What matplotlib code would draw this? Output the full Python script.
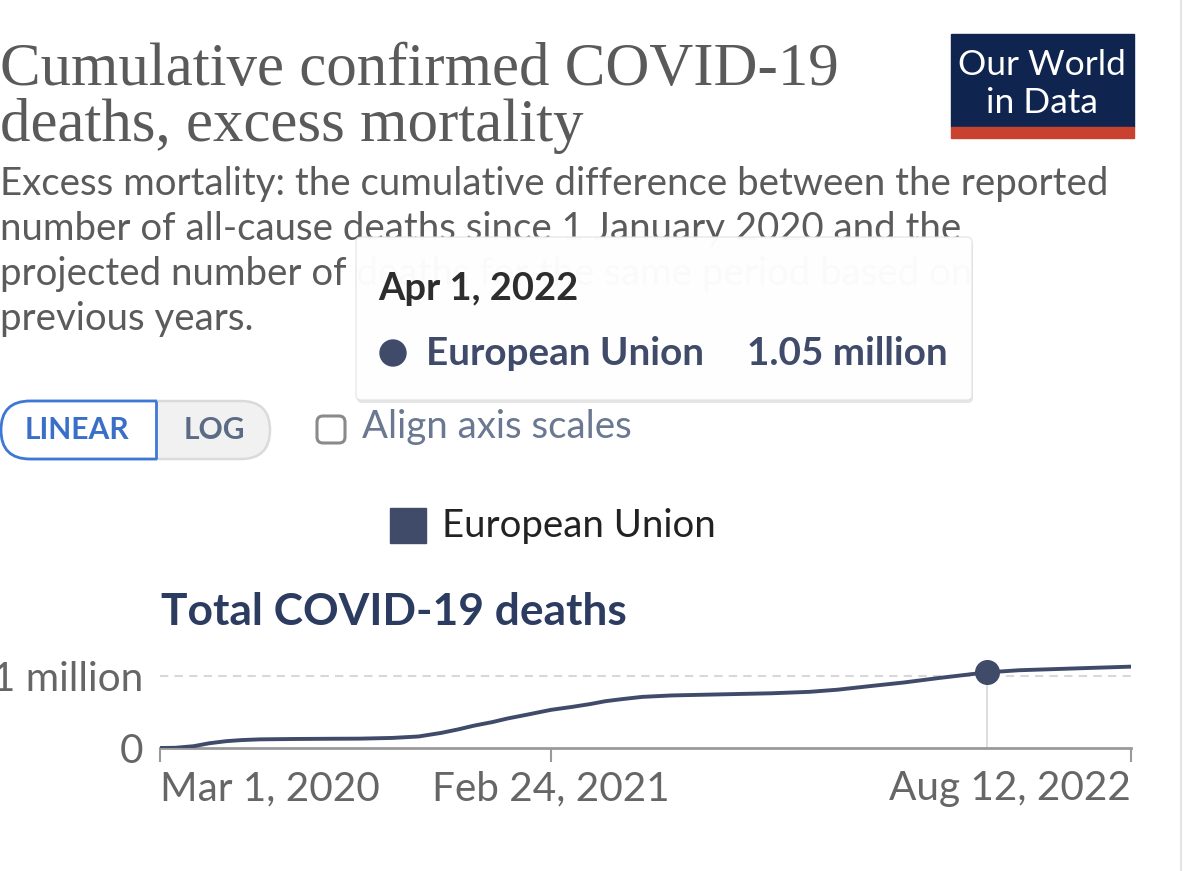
import matplotlib
matplotlib.use("Agg")
import matplotlib.pyplot as plt
import pandas as pd
from matplotlib.patches import FancyBboxPatch, Rectangle, Circle

# ---------------- data ----------------
dates = ["2020-03-01", "2020-03-15", "2020-04-01", "2020-04-15", "2020-05-01",
         "2020-05-15", "2020-06-01", "2020-07-01", "2020-08-01", "2020-09-01",
         "2020-10-01", "2020-10-25", "2020-11-15", "2020-12-01", "2020-12-15",
         "2021-01-01", "2021-01-15", "2021-02-01", "2021-02-24", "2021-03-15",
         "2021-04-01", "2021-04-15", "2021-05-01", "2021-05-19", "2021-06-15",
         "2021-07-15", "2021-08-15", "2021-09-15", "2021-10-20", "2021-11-15",
         "2021-12-15", "2022-01-15", "2022-02-15", "2022-03-15", "2022-04-01",
         "2022-05-01", "2022-06-01", "2022-07-01", "2022-08-12"]
deaths_millions = [0.0, 0.003, 0.025, 0.065, 0.095,
                   0.11, 0.12, 0.125, 0.128, 0.13,
                   0.14, 0.16, 0.21, 0.26, 0.31,
                   0.36, 0.41, 0.46, 0.53, 0.57,
                   0.61, 0.65, 0.68, 0.71, 0.73,
                   0.74, 0.75, 0.76, 0.78, 0.81,
                   0.86, 0.91, 0.97, 1.02, 1.05,
                   1.08, 1.095, 1.11, 1.13]
series_name = "European Union"
hover_date = "2022-04-01"
hover_value = 1.05
hover_label = "Apr 1, 2022"
hover_value_label = "1.05 million"
x_ticks = ["2020-03-01", "2021-02-24", "2022-08-12"]
x_tick_labels = ["Mar 1, 2020", "Feb 24, 2021", "Aug 12, 2022"]
y_ticks = [0, 1]
y_tick_labels = ["0", "1 million"]

title_lines = ["Cumulative confirmed COVID-19", "deaths, excess mortality"]
subtitle_lines = ["Excess mortality: the cumulative difference between the reported",
                  "number of all-cause deaths since 1 January 2020 and the",
                  "projected number of deaths for the same period based on",
                  "previous years."]
chart_title = "Total COVID-19 deaths"

LINE = "#404b6a"
W, H = 1184, 871

fig = plt.figure(figsize=(W / 100, H / 100), dpi=100)
fig.patch.set_facecolor("white")
ax0 = fig.add_axes([0, 0, 1, 1])
ax0.set_xlim(0, W)
ax0.set_ylim(H, 0)
ax0.axis("off")
ax0.set_zorder(0)
renderer = fig.canvas.get_renderer()


def fit_size(s, width_px, **kw):
    t = ax0.text(0, 0, s, fontsize=20, **kw)
    w = t.get_window_extent(renderer).width
    t.remove()
    return 20 * width_px / w


# ---------------- title ----------------
TF = "Liberation Serif"
tsize = fit_size(title_lines[0], 840, family=TF)
ax0.text(0, 85, title_lines[0], fontsize=tsize, family=TF,
         color="#5a5a5a", va="baseline", ha="left")
ax0.text(0, 141, title_lines[1], fontsize=tsize, family=TF,
         color="#5a5a5a", va="baseline", ha="left")

# ---------------- subtitle ----------------
ssize = fit_size(subtitle_lines[0], 1108, family="Lato")
for i, line in enumerate(subtitle_lines):
    ax0.text(0, 195 + 45 * i, line, fontsize=ssize, family="Lato",
             color="#5b5b5b", va="baseline", ha="left", zorder=1)

# ---------------- logo ----------------
ax0.add_patch(Rectangle((951, 34), 183, 93, color="#0f2550", zorder=2))
ax0.add_patch(Rectangle((951, 127), 183, 11, color="#c9412f", zorder=2))
lsize = fit_size("Our World", 168, family="Lato")
ax0.text(1042, 75, "Our World", fontsize=lsize, family="Lato", color="white",
         va="baseline", ha="center", zorder=3)
ax0.text(1042, 113, "in Data", fontsize=lsize, family="Lato", color="white",
         va="baseline", ha="center", zorder=3)

# ---------------- tooltip ----------------
shadow = FancyBboxPatch((357, 240), 616, 163, boxstyle="round,pad=0,rounding_size=5",
                        facecolor="#000000", alpha=0.10, edgecolor="none", zorder=4)
ax0.add_patch(shadow)
tip = FancyBboxPatch((356, 237), 616, 163, boxstyle="round,pad=0,rounding_size=5",
                     facecolor="white", alpha=0.975, edgecolor="#e2e2e2",
                     linewidth=0.8, zorder=5)
ax0.add_patch(tip)
dsize = fit_size(hover_label, 200, family="Lato", fontweight="bold")
ax0.text(378, 300, hover_label, fontsize=dsize, family="Lato", fontweight="bold",
         color="#2d2d2d", va="baseline", ha="left", zorder=6)
nsize = fit_size(series_name, 278, family="Lato", fontweight="bold")
ax0.add_patch(Circle((393, 353), 13, color=LINE, zorder=6))
ax0.text(426, 365, series_name, fontsize=nsize, family="Lato", fontweight="bold",
         color=LINE, va="baseline", ha="left", zorder=6)
ax0.text(948, 365, hover_value_label, fontsize=nsize, family="Lato", fontweight="bold",
         color=LINE, va="baseline", ha="right", zorder=6)

# ---------------- controls ----------------
pill = FancyBboxPatch((1, 401), 269, 58, boxstyle="round,pad=0,rounding_size=29",
                      facecolor="#f1f1f1", edgecolor="#dadada", linewidth=1.8, zorder=2)
ax0.add_patch(pill)
lin = FancyBboxPatch((1, 401), 230, 58, boxstyle="round,pad=0,rounding_size=29",
                     facecolor="white", edgecolor="#3d78d6", linewidth=2.0, zorder=3)
ax0.add_patch(lin)
clip = Rectangle((-10, 390), 167, 80, transform=ax0.transData)
lin.set_clip_path(clip)
ax0.plot([156, 156], [401, 459], color="#3d78d6", linewidth=2.0, zorder=4,
         solid_capstyle="butt")
bsize = fit_size("LINEAR", 105, family="Lato", fontweight="bold")
ax0.text(77, 439, "LINEAR", fontsize=bsize, family="Lato", fontweight="bold",
         color="#3a6fc9", va="baseline", ha="center", zorder=5)
ax0.text(214, 439, "LOG", fontsize=bsize, family="Lato", fontweight="bold",
         color="#5b6b86", va="baseline", ha="center", zorder=5)
ax0.add_patch(FancyBboxPatch((317, 416), 28, 27, boxstyle="round,pad=0,rounding_size=6",
                             facecolor="white", edgecolor="#8a8a8a", linewidth=2.2, zorder=3))
csize = fit_size("Align axis scales", 270, family="Lato")
ax0.text(362, 438, "Align axis scales", fontsize=csize, family="Lato",
         color="#6a7891", va="baseline", ha="left", zorder=3)

# ---------------- legend ----------------
ax0.add_patch(Rectangle((390, 508), 36, 35, color=LINE, zorder=2))
gsize = fit_size(series_name, 274, family="Lato")
ax0.text(442, 537, series_name, fontsize=gsize, family="Lato",
         color="#222222", va="baseline", ha="left", zorder=2)

# ---------------- chart title ----------------
ctsize = fit_size(chart_title, 466, family="Lato", fontweight="bold")
ax0.text(161, 625, chart_title, fontsize=ctsize, family="Lato", fontweight="bold",
         color="#2c3c61", va="baseline", ha="left", zorder=2)

# right edge border
ax0.plot([1181, 1181], [0, H], color="#e4e4e4", linewidth=1.5, zorder=1)

# ---------------- chart ----------------
ticksize = fit_size(x_tick_labels[0], 220, family="Lato")
ax = fig.add_axes([160 / W, (H - 748) / H, 971 / W, 108 / H])
ax.set_zorder(2)
ax.patch.set_alpha(0)
x = pd.to_datetime(dates)
ax.axhline(1, color="#d8d8d8", linewidth=1.5, dashes=(4, 3), zorder=1)
hd = pd.to_datetime(hover_date)
ax.vlines(hd, 0, hover_value, color="#dddddd", linewidth=1.4, zorder=1)
ax.plot(x, deaths_millions, color=LINE, linewidth=2.8, zorder=3,
        solid_capstyle="round", solid_joinstyle="round")
ax.plot([hd], [hover_value], "o", color=LINE, markersize=17, zorder=4)

ax.set_xlim(pd.to_datetime(x_ticks[0]), pd.to_datetime(x_ticks[-1]))
ax.set_ylim(0, 1.5)
for s in ["top", "right", "left"]:
    ax.spines[s].set_visible(False)
ax.spines["bottom"].set_color("#9a9a9a")
ax.spines["bottom"].set_linewidth(2.0)
ax.set_xticks(pd.to_datetime(x_ticks))
ax.set_xticklabels(x_tick_labels, fontsize=ticksize, family="Lato", color="#666666")
ax.tick_params(axis="x", direction="out", length=10, width=1.5, color="#9a9a9a", pad=6)
labs = ax.get_xticklabels()
labs[0].set_ha("left")
labs[-1].set_ha("right")
ax.set_yticks(y_ticks)
ax.set_yticklabels(y_tick_labels, fontsize=ticksize, family="Lato", color="#666666")
ax.tick_params(axis="y", length=0, pad=12)
for lab in ax.get_yticklabels():
    lab.set_va("center_baseline")

fig.savefig("out.png", dpi=100, facecolor="white")
